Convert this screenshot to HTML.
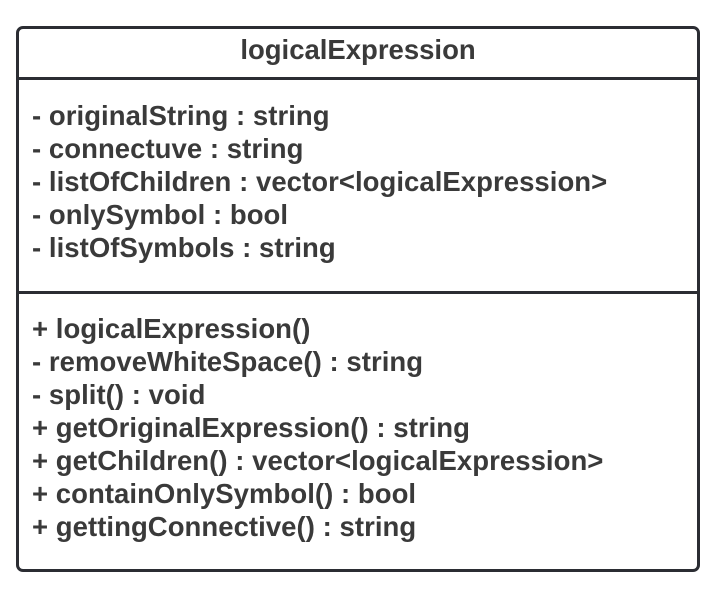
<!DOCTYPE html>
<html><head><style>
html,body{margin:0;padding:0;background:#fff;width:726px;height:606px;overflow:hidden}
body{position:relative;font-family:"Liberation Sans",sans-serif;font-weight:bold;color:#3a3a3a;font-size:27.5px}
.box{position:absolute;left:16px;top:26px;width:678px;height:540px;border:3px solid #2b2d33;border-radius:7px}
.hl{position:absolute;left:16px;width:684px;height:3px;background:#2b2d33}
.t{position:absolute;left:0;width:716px;text-align:center;top:33px;line-height:33px}
.l{position:absolute;left:32px;line-height:33px;white-space:pre;letter-spacing:0.05px}
</style></head><body>
<div class="box"></div>
<div class="hl" style="top:77px"></div>
<div class="hl" style="top:291px"></div>
<div class="t">logicalExpression</div>
<div class="l" style="top:99px">- originalString : string
- connectuve : string
- listOfChildren : vector&lt;logicalExpression&gt;
- onlySymbol : bool
- listOfSymbols : string</div>
<div class="l" style="top:312px">+ logicalExpression()
- removeWhiteSpace() : string
- split() : void
+ getOriginalExpression() : string
+ getChildren() : vector&lt;logicalExpression&gt;
+ containOnlySymbol() : bool
+ gettingConnective() : string</div>
</body></html>
